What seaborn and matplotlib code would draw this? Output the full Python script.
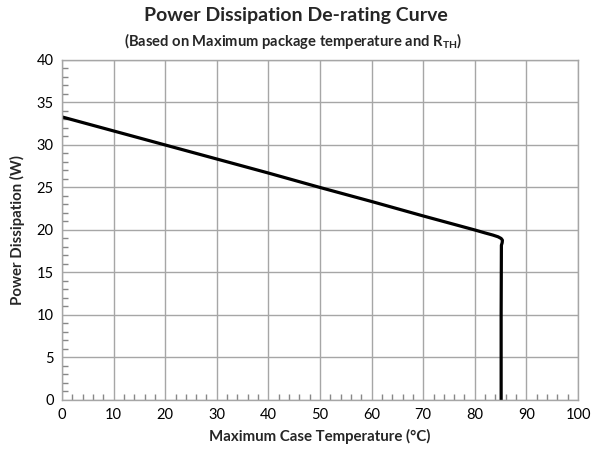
import matplotlib
matplotlib.use("Agg")
import matplotlib.pyplot as plt
from matplotlib.ticker import MultipleLocator
import seaborn as sns
import pandas as pd

# curve
temperature = [0, 10, 20, 30, 40, 50, 60, 70, 80, 82, 83.5, 84.5, 85.1, 85.35, 85.3, 85.15, 85.1, 85.1]
power = [33.3, 31.65, 30.0, 28.35, 26.7, 25.0, 23.35, 21.65, 20.0, 19.65, 19.4, 19.2, 19.0, 18.8, 18.5, 18.2, 10.0, 0.0]

x_ticks = [0, 10, 20, 30, 40, 50, 60, 70, 80, 90, 100]
y_ticks = [0, 5, 10, 15, 20, 25, 30, 35, 40]

sns.set_theme(style="white")
plt.rcParams['font.family'] = ['Lato', 'DejaVu Sans']
plt.rcParams['mathtext.fontset'] = 'custom'
plt.rcParams['mathtext.rm'] = 'Lato'
plt.rcParams['mathtext.bf'] = 'Lato:bold'

df = pd.DataFrame({'temp': temperature, 'power': power})

fig = plt.figure(figsize=(5.92, 4.55), dpi=100)
ax = fig.add_axes([0.1047, 0.1209, 0.8717, 0.7473])

sns.lineplot(data=df, x='temp', y='power', sort=False, estimator=None,
             color='black', linewidth=2.3, ax=ax)

ax.set_xlim(0, 100)
ax.set_ylim(0, 40)
ax.set_xticks(x_ticks)
ax.set_yticks(y_ticks)
ax.xaxis.set_minor_locator(MultipleLocator(2))
ax.yaxis.set_minor_locator(MultipleLocator(1))
ax.tick_params(which='major', length=0, labelsize=10.5, colors='black', pad=6)
ax.tick_params(which='minor', direction='in', length=4, color='#888888',
               bottom=True, left=True)
ax.grid(True, which='major', color='#a6a6a6', linewidth=1)
ax.set_axisbelow(True)
for s in ax.spines.values():
    s.set_color('#a6a6a6')
    s.set_linewidth(1)

ax.set_xlabel('Maximum Case Temperature (°C)', fontsize=10.8, fontweight='bold', labelpad=5)
ax.set_ylabel('Power Dissipation (W)', fontsize=10.8, fontweight='bold', labelpad=8)

fig.text(0.5, 0.965, 'Power Dissipation De-rating Curve', ha='center', va='center',
         fontsize=14, fontweight='bold')
fig.text(0.495, 0.91, r'(Based on Maximum package temperature and $\mathbf{R}_{\mathbf{TH}}$)',
         ha='center', va='center', fontsize=10.6, fontweight='bold')

fig.savefig('out.png', dpi=100)
